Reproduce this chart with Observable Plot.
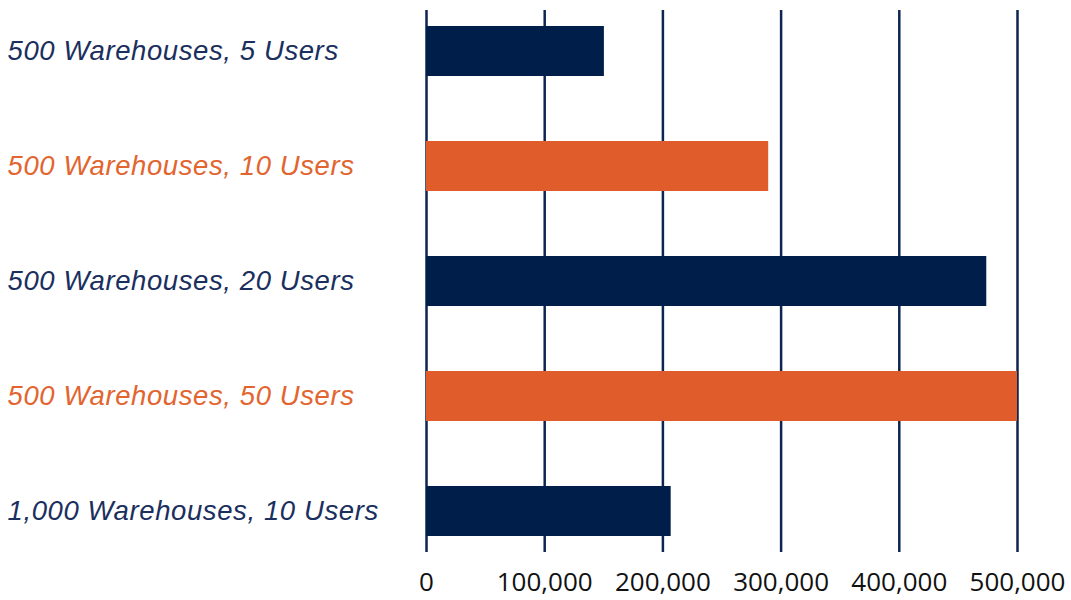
<!DOCTYPE html>
<html>
<head>
<meta charset="utf-8">
<script src="https://cdn.jsdelivr.net/npm/d3@7"></script>
<script src="https://cdn.jsdelivr.net/npm/@observablehq/plot@0.6"></script>
<style>
  html, body { margin: 0; padding: 0; background: #fff; }
  #chart svg { display: block; }
</style>
</head>
<body>
<div id="chart"></div>
<script>
const categories = [
  "500 Warehouses, 5 Users",
  "500 Warehouses, 10 Users",
  "500 Warehouses, 20 Users",
  "500 Warehouses, 50 Users",
  "1,000 Warehouses, 10 Users"
];
const values = [150500, 289500, 474000, 500000, 207000];
const groups = ["navy", "orange", "navy", "orange", "navy"];
const xTicks = [0, 100000, 200000, 300000, 400000, 500000];
const palette = { navy: "#001e4a", orange: "#e05c2a" };
const labelColors = { navy: "#1b2f5e", orange: "#e2652f" };

const data = categories.map((c, i) => ({ category: c, value: values[i], group: groups[i] }));

const chart = Plot.plot({
  width: 1071,
  height: 600,
  marginLeft: 426,
  marginRight: 54,
  marginTop: 10,
  marginBottom: 48,
  style: { background: "#fff" },
  x: { domain: [0, 500000], ticks: xTicks, axis: null, label: null },
  y: { domain: categories, paddingInner: 0.567, paddingOuter: 0.128, axis: null },
  marks: [
    Plot.ruleX(xTicks, { stroke: "#0d2550", strokeWidth: 2.5 }),
    Plot.barX(data, {
      x: "value", y: "category",
      fill: d => palette[d.group]
    }),
    Plot.axisX(xTicks, {
      tickSize: 0, tickPadding: 20, label: null,
      tickFormat: d => d3.format(",")(d),
      fontSize: 26, fontFamily: "Open Sans", fill: "#111"
    }),
    Plot.text(data, {
      x: 0, y: "category", text: "category",
      textAnchor: "start", dx: -419,
      fontSize: 27.5, fontStyle: "italic", fontFamily: "Liberation Sans",
      fill: d => labelColors[d.group]
    })
  ]
});
chart.querySelectorAll("text").forEach(t => {
  if (t.closest("g") && t.textContent.includes("Warehouses")) t.setAttribute("letter-spacing", "0.6");
});
chart.querySelectorAll("g[aria-label='text'] text").forEach(t => t.setAttribute("letter-spacing", "0.6"));
document.getElementById("chart").appendChild(chart);
</script>
</body>
</html>
